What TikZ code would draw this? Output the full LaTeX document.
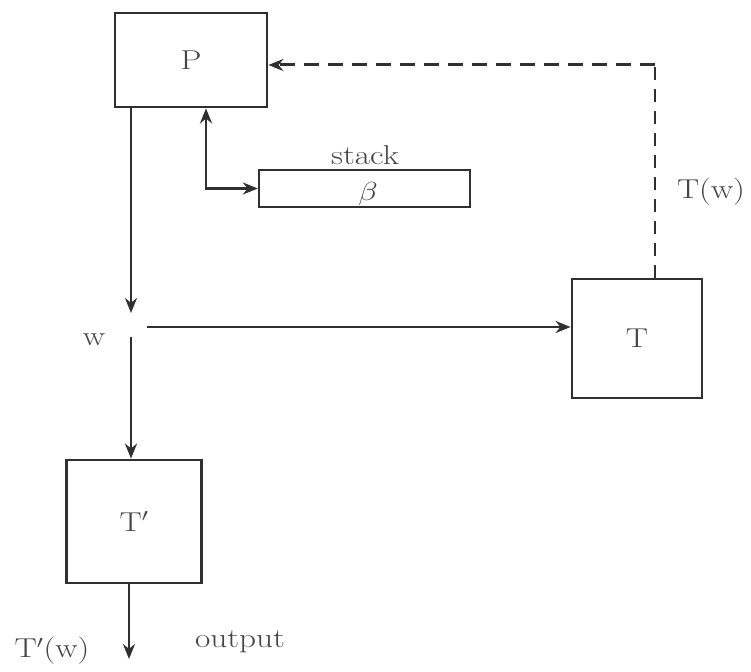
\documentclass[tikz,border=0pt]{standalone}
\usepackage{graphicx}
\usetikzlibrary{arrows.meta}
\definecolor{ink}{HTML}{303030}
\definecolor{txt}{HTML}{454545}
% wide, typewriter-like lettering
\newcommand{\widetxt}[1]{\scalebox{1.28}[1.05]{#1}}
\tikzset{
  blk/.style={draw=ink, line width=2.8pt, rectangle, inner sep=0pt},
  lbl/.style={text=txt, font=\fontsize{26}{30}\selectfont, inner sep=0pt},
  conn/.style={draw=ink, line width=2.6pt, -{Stealth[length=15pt,width=12pt]}},
  biconn/.style={draw=ink, line width=2.6pt, {Stealth[length=15pt,width=12pt]}-{Stealth[length=15pt,width=12pt]}},
  fbh/.style={draw=ink, line width=3pt, dash pattern=on 15pt off 9pt, -{Stealth[length=15pt,width=12pt]}},
  fbv/.style={draw=ink, line width=1.8pt, dash pattern=on 13pt off 9pt}
}
\begin{document}
\begin{tikzpicture}[x=1pt,y=-1pt]
\useasboundingbox[fill=white] (0,0) rectangle (751,671);

% blocks
\node[blk, minimum width=152pt, minimum height=94pt] (P) at (191,60) {};
\node[lbl] at (P.center) {\widetxt{P}};
\node[blk, minimum width=211pt, minimum height=37pt, line width=2.4pt] (stk) at (364.5,188.5) {};
\node[lbl] (beta) at (368,194) {\widetxt{$\beta$}};
\node[lbl] (stklbl) at (365,155) {\widetxt{stack}};
\node[blk, minimum width=130pt, minimum height=119pt] (T) at (637,338.5) {};
\node[lbl] at (T.center) {\widetxt{T}};
\node[blk, minimum width=135pt, minimum height=123pt] (Tp) at (134,521.5) {};
\node[lbl] at (Tp.center) {\widetxt{T$'$}};

% points along the connectors
\coordinate (wtop) at (131,313);
\coordinate (wbot) at (131,337);
\coordinate (hstart) at (147,327);
\coordinate (corner) at (206,188.5);
\coordinate (tw) at (655,65);
\coordinate (out) at (129,659);

% labels
\node[lbl] (wlbl) at (94,340) {\widetxt{w}};
\node[lbl] (twlbl) at (711,192) {\widetxt{T(w)}};
\node[lbl] (tpwlbl) at (52,651) {\widetxt{T$'$(w)}};
\node[lbl] (outlbl) at (240,642) {\widetxt{output}};

% connectors
\draw[conn] (P.south -| wtop) -- (wtop);
\draw[conn] (wbot) -- (Tp.north -| wbot);
\draw[conn] (hstart) -- (T.west |- hstart);
\draw[biconn] (P.south -| corner) -- (corner) -- (stk.west);
\draw[fbv] (T.north -| tw) -- (tw);
\draw[fbh] (tw) -- (P.east |- tw);
\draw[conn] (Tp.south -| out) -- (out);
\end{tikzpicture}
\end{document}
